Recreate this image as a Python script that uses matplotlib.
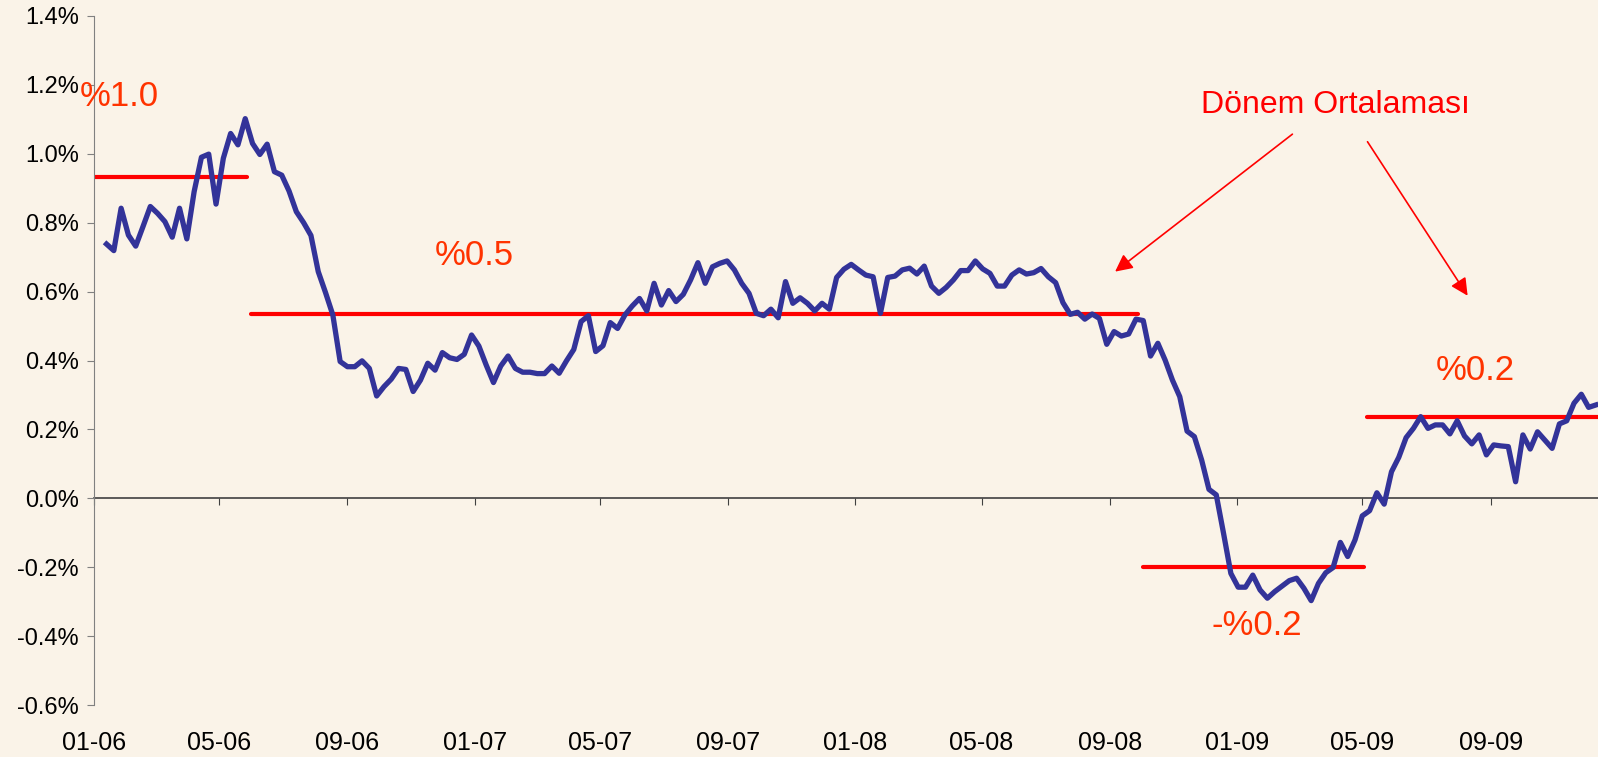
import numpy as np
import pandas as pd
import matplotlib
matplotlib.use('Agg')
import matplotlib.pyplot as plt
import matplotlib.dates as mdates
from matplotlib.ticker import FuncFormatter, MultipleLocator

plt.rcParams['font.family'] = ['Liberation Sans', 'DejaVu Sans']

# haftalik seri (%), 2006-01 .. 2009-12
dates = pd.date_range('2006-01-13', periods=205, freq='7D')
values = [
    0.738, 0.719, 0.842, 0.764, 0.732, 0.789, 0.847, 0.827, 0.803, 0.758,
    0.842, 0.753, 0.890, 0.990, 0.999, 0.854, 0.987, 1.059, 1.026, 1.102,
    1.030, 0.998, 1.028, 0.948, 0.938, 0.892, 0.832, 0.800, 0.763, 0.658,
    0.597, 0.532, 0.397, 0.382, 0.382, 0.399, 0.377, 0.297, 0.324, 0.346,
    0.377, 0.374, 0.310,
    0.343, 0.392, 0.372, 0.423, 0.408, 0.403, 0.418, 0.474, 0.442, 0.387,
    0.336, 0.384, 0.413, 0.377, 0.366, 0.366, 0.362, 0.362, 0.384, 0.363,
    0.399, 0.432, 0.513, 0.530, 0.426, 0.443, 0.510, 0.493, 0.532, 0.558,
    0.580, 0.544, 0.624, 0.561, 0.603, 0.571, 0.592, 0.634, 0.684, 0.624,
    0.672, 0.682, 0.689, 0.663, 0.624, 0.595, 0.537, 0.530, 0.549, 0.524,
    0.629, 0.566,
    0.582, 0.566, 0.544, 0.566, 0.549, 0.641, 0.665, 0.679, 0.663, 0.648,
    0.643, 0.537, 0.641, 0.645, 0.663, 0.668, 0.651, 0.674, 0.616, 0.595,
    0.612, 0.634, 0.661, 0.661, 0.689, 0.666, 0.653, 0.616, 0.616, 0.648,
    0.663, 0.651, 0.655, 0.667, 0.643, 0.626, 0.568, 0.534, 0.540, 0.520,
    0.535, 0.522, 0.447, 0.484, 0.471, 0.477, 0.520, 0.516, 0.413, 0.450,
    0.401, 0.343, 0.295, 0.195, 0.179,
    0.111, 0.026, 0.010, -0.102, -0.218, -0.258, -0.258, -0.223, -0.266, -0.290,
    -0.271, -0.255, -0.239, -0.232, -0.261, -0.297, -0.247, -0.216, -0.201, -0.128,
    -0.169, -0.121, -0.051, -0.036, 0.016, -0.017, 0.077, 0.119, 0.176, 0.203,
    0.237, 0.203, 0.213, 0.213, 0.187, 0.225, 0.181, 0.158, 0.184, 0.126,
    0.155, 0.152, 0.150, 0.048, 0.184, 0.143, 0.193, 0.169, 0.145, 0.216,
    0.225, 0.276, 0.302, 0.264, 0.271,
]

# donem ortalamalari
period_start = pd.to_datetime(['2006-01-01', '2006-06-01', '2008-10-03', '2009-05-06'])
period_end = pd.to_datetime(['2006-05-28', '2008-09-28', '2009-05-03', '2009-12-13'])
period_avg = [0.932, 0.535, -0.199, 0.235]
period_labels = ['%1.0', '%0.5', '-%0.2', '%0.2']

bg = '#FAF3E8'
fig = plt.figure(figsize=(15.98, 7.57), dpi=100, facecolor=bg)
ax = fig.add_axes([94 / 1598, 1 - 705 / 757, 1 - 94 / 1598, (705 - 16) / 757])
ax.set_facecolor(bg)

ymin, ymax = -0.6, 1.4
ax.set_ylim(ymin, ymax)
ax.set_xlim(pd.Timestamp('2006-01-01'), pd.Timestamp('2009-12-13'))

# ortalama cizgileri
for s, e, a in zip(period_start, period_end, period_avg):
    ax.plot([s, e], [a, a], color='#FF0000', lw=3, solid_capstyle='round', zorder=2)

ax.plot(dates, values, color='#333399', lw=3.8, zorder=3)

# etiketler (baseline)
lab_x = pd.to_datetime(['2005-12-18', '2007-01-01', '2009-01-20', '2009-08-17'])
lab_y = [1.139, 0.677, -0.397, 0.343]
lab_ha = ['left', 'center', 'center', 'center']
for t, x, y, h in zip(period_labels, lab_x, lab_y, lab_ha):
    ax.text(x, y, t, color='#FF3300', fontsize=25, ha=h, va='baseline', zorder=4)

ax.text(pd.Timestamp('2009-04-05'), 1.118, 'Dönem Ortalaması', color='#FF0000',
        fontsize=23, ha='center', va='baseline')
arrow = dict(arrowstyle='-|>', color='#FF0000', lw=1.2, mutation_scale=26,
             shrinkA=0, shrinkB=0)
ax.annotate('', xy=(pd.Timestamp('2008-09-06'), 0.658),
            xytext=(pd.Timestamp('2009-02-23'), 1.057), arrowprops=arrow)
ax.annotate('', xy=(pd.Timestamp('2009-08-10'), 0.588),
            xytext=(pd.Timestamp('2009-05-06'), 1.035), arrowprops=arrow)

# eksenler
for sp in ['top', 'right', 'bottom']:
    ax.spines[sp].set_visible(False)
ax.spines['left'].set_color('#808080')
ax.yaxis.set_major_locator(MultipleLocator(0.2))
ax.yaxis.set_major_formatter(FuncFormatter(lambda v, p: '%.1f%%' % v))
ax.tick_params(axis='y', direction='out', length=5, color='#808080',
               labelsize=17, pad=6)

locator = mdates.MonthLocator(bymonth=[1, 5, 9])
ax.xaxis.set_major_locator(locator)
ax.xaxis.set_major_formatter(mdates.DateFormatter('%m-%y'))
ax.tick_params(axis='x', length=0, labelsize=18, pad=19)

# sifir cizgisi + tikler
zero = ax.secondary_xaxis((0 - ymin) / (ymax - ymin))
zero.xaxis.set_major_locator(mdates.MonthLocator(bymonth=[1, 5, 9]))
zero.tick_params(axis='x', direction='out', length=5, color='#404040',
                 labelbottom=False)
zero.spines['bottom'].set_color('#404040')
zero.spines['bottom'].set_linewidth(1.2)

plt.savefig('out.png', dpi=100, facecolor=bg)
plt.close()
